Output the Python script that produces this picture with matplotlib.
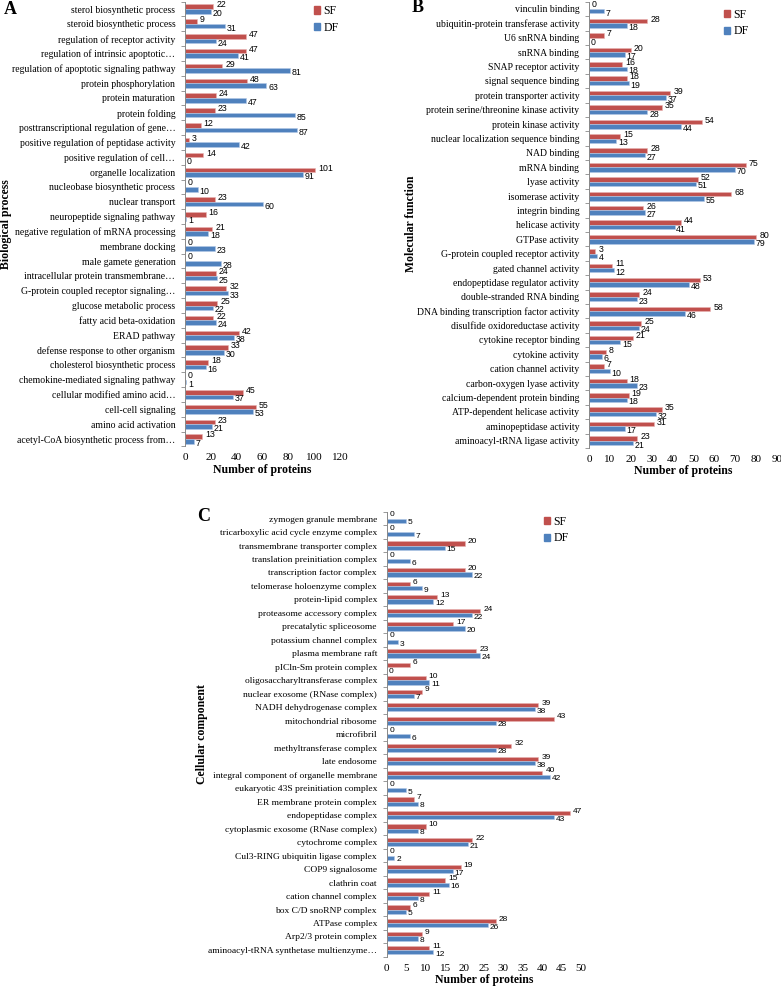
import matplotlib
matplotlib.use("Agg")
import matplotlib.pyplot as plt
from matplotlib.patches import Patch
import numpy as np

# ---- data ----
bp_terms = [
    "sterol biosynthetic process", "steroid biosynthetic process",
    "regulation of receptor activity", "regulation of intrinsic apoptotic\u2026",
    "regulation of apoptotic signaling pathway", "protein phosphorylation",
    "protein maturation", "protein folding",
    "posttranscriptional regulation of gene\u2026",
    "positive regulation of peptidase activity",
    "positive regulation of cell\u2026", "organelle localization",
    "nucleobase biosynthetic process", "nuclear transport",
    "neuropeptide signaling pathway", "negative regulation of mRNA processing",
    "membrane docking", "male gamete generation",
    "intracellular protein transmembrane\u2026",
    "G-protein coupled receptor signaling\u2026", "glucose metabolic process",
    "fatty acid beta-oxidation", "ERAD pathway",
    "defense response to other organism", "cholesterol biosynthetic process",
    "chemokine-mediated signaling pathway", "cellular modified amino acid\u2026",
    "cell-cell signaling", "amino acid activation",
    "acetyl-CoA biosynthetic process from\u2026",
]
bp_sf = [22, 9, 47, 47, 29, 48, 24, 23, 12, 3, 14, 101, 0, 23, 16, 21, 0, 0,
         24, 32, 25, 22, 42, 33, 18, 0, 45, 55, 23, 13]
bp_df = [20, 31, 24, 41, 81, 63, 47, 85, 87, 42, 0, 91, 10, 60, 1, 18, 23, 28,
         25, 33, 22, 24, 38, 30, 16, 1, 37, 53, 21, 7]

mf_terms = [
    "vinculin binding", "ubiquitin-protein transferase activity",
    "U6 snRNA binding", "snRNA binding", "SNAP receptor activity",
    "signal sequence binding", "protein transporter activity",
    "protein serine/threonine kinase activity", "protein kinase activity",
    "nuclear localization sequence binding", "NAD binding", "mRNA binding",
    "lyase activity", "isomerase activity", "integrin binding",
    "helicase activity", "GTPase activity",
    "G-protein coupled receptor activity", "gated channel activity",
    "endopeptidase regulator activity", "double-stranded RNA binding",
    "DNA binding transcription factor activity",
    "disulfide oxidoreductase activity", "cytokine receptor binding",
    "cytokine activity", "cation channel activity",
    "carbon-oxygen lyase activity", "calcium-dependent protein binding",
    "ATP-dependent helicase activity", "aminopeptidase activity",
    "aminoacyl-tRNA ligase activity",
]
mf_sf = [0, 28, 7, 20, 16, 18, 39, 35, 54, 15, 28, 75, 52, 68, 26, 44, 80, 3,
         11, 53, 24, 58, 25, 21, 8, 7, 18, 19, 35, 31, 23]
mf_df = [7, 18, 0, 17, 18, 19, 37, 28, 44, 13, 27, 70, 51, 55, 27, 41, 79, 4,
         12, 48, 23, 46, 24, 15, 6, 10, 23, 18, 32, 17, 21]

cc_terms = [
    "zymogen granule membrane", "tricarboxylic acid cycle enzyme complex",
    "transmembrane transporter complex", "translation preinitiation complex",
    "transcription factor complex", "telomerase holoenzyme complex",
    "protein-lipid complex", "proteasome accessory complex",
    "precatalytic spliceosome", "potassium channel complex",
    "plasma membrane raft", "pICln-Sm protein complex",
    "oligosaccharyltransferase complex", "nuclear exosome (RNase complex)",
    "NADH dehydrogenase complex", "mitochondrial ribosome", "microfibril",
    "methyltransferase complex", "late endosome",
    "integral component of organelle membrane",
    "eukaryotic 43S preinitiation complex", "ER membrane protein complex",
    "endopeptidase complex", "cytoplasmic exosome (RNase complex)",
    "cytochrome complex", "Cul3-RING ubiquitin ligase complex",
    "COP9 signalosome", "clathrin coat", "cation channel complex",
    "box C/D snoRNP complex", "ATPase complex", "Arp2/3 protein complex",
    "aminoacyl-tRNA synthetase multienzyme\u2026",
]
cc_sf = [0, 0, 20, 0, 20, 6, 13, 24, 17, 0, 23, 6, 10, 9, 39, 43, 0, 32, 39,
         40, 0, 7, 47, 10, 22, 0, 19, 15, 11, 6, 28, 9, 11]
cc_df = [5, 7, 15, 6, 22, 9, 12, 22, 20, 3, 24, 0, 11, 7, 38, 28, 6, 28, 38,
         42, 5, 8, 43, 8, 21, 2, 17, 16, 8, 5, 26, 8, 12]

SF_COLOR = "#C0504D"
DF_COLOR = "#4F81BD"
SERIF = "Liberation Serif"
NUMF = "Liberation Sans"

W, H = 781, 988
fig = plt.figure(figsize=(W / 100, H / 100), dpi=100)


def px_axes(x0, x1, ytop, ybot):
    return fig.add_axes([x0 / W, 1 - ybot / H, (x1 - x0) / W, (ybot - ytop) / H])


def panel(ax, terms, sf, df, xmax, xstep, label_size, num_size):
    n = len(terms)
    y = np.arange(n)
    h = 0.31
    ax.barh(y - h / 2, sf, height=h, color=SF_COLOR, edgecolor="#E9B3B2", linewidth=0.4)
    ax.barh(y + h / 2, df, height=h, color=DF_COLOR, edgecolor="#B4C9E6", linewidth=0.4)
    for i in range(n):
        ax.annotate(str(sf[i]), (sf[i], y[i] - h / 2), xytext=(2.2, 1.3),
                    textcoords="offset points", va="center", ha="left",
                    fontsize=num_size, family=NUMF, color="black")
        ax.annotate(str(df[i]), (df[i], y[i] + h / 2), xytext=(1.2, -1.5),
                    textcoords="offset points", va="center", ha="left",
                    fontsize=num_size, family=NUMF, color="black")
    ax.set_ylim(n - 0.5, -0.5)
    ax.set_xlim(0, xmax)
    ax.set_yticks(y)
    ax.set_yticklabels(terms, family=SERIF, fontsize=label_size)
    ax.set_yticks(np.arange(n + 1) - 0.5, minor=True)
    ax.tick_params(axis="y", which="major", length=0, pad=7)
    ax.tick_params(axis="y", which="minor", length=3, width=0.6, color="#888888")
    ax.set_xticks(np.arange(0, xmax + 1, xstep))
    ax.tick_params(axis="x", length=0, labelsize=8, pad=5)
    for lab in ax.get_xticklabels():
        lab.set_family(SERIF)
    for s in ["top", "right", "bottom"]:
        ax.spines[s].set_visible(False)
    ax.spines["left"].set_color("#888888")
    ax.spines["left"].set_linewidth(0.7)
    ax.set_xlabel("Number of proteins", family=SERIF, fontweight="bold",
                  fontsize=8.5, labelpad=1)


def legend_at(ax, x, y):
    handles = [Patch(color=SF_COLOR), Patch(color=DF_COLOR)]
    ax.legend(handles, ["SF", "DF"], loc="center left",
              bbox_to_anchor=(x / W, 1 - y / H), bbox_transform=fig.transFigure,
              frameon=False, handlelength=0.55, handleheight=0.55,
              handletextpad=0.25, labelspacing=0.4, borderpad=0,
              borderaxespad=0, prop={"family": SERIF, "size": 8.5})


# panel A
axA = px_axes(185, 340, 1.6, 446.4)
panel(axA, bp_terms, bp_sf, bp_df, 120, 20, 7, 6.3)
legend_at(axA, 314, 19.5)
fig.text(10 / W, 1 - 10 / H, "A", family=SERIF, fontweight="bold", fontsize=13,
         ha="center", va="center")
fig.text(6 / W, 1 - 224 / H, "Biological process", family=SERIF,
         fontweight="bold", fontsize=8.5, rotation=90, ha="center", va="center")

# panel B
axB = px_axes(589, 777, 1.8, 447.9)
panel(axB, mf_terms, mf_sf, mf_df, 90, 10, 7, 6.3)
legend_at(axB, 724, 23)
fig.text(418 / W, 1 - 8 / H, "B", family=SERIF, fontweight="bold", fontsize=13,
         ha="center", va="center")
fig.text(411 / W, 1 - 224 / H, "Molecular function", family=SERIF,
         fontweight="bold", fontsize=8.5, rotation=90, ha="center", va="center")

# panel C
axC = px_axes(386.7, 581.2, 511.8, 956.7)
panel(axC, cc_terms, cc_sf, cc_df, 50, 5, 6.8, 6.0)
legend_at(axC, 544, 530)
fig.text(204 / W, 1 - 516 / H, "C", family=SERIF, fontweight="bold", fontsize=13,
         ha="center", va="center")
fig.text(202 / W, 1 - 734 / H, "Cellular component", family=SERIF,
         fontweight="bold", fontsize=8.5, rotation=90, ha="center", va="center")

fig.savefig("out.png", dpi=100)
plt.close(fig)
